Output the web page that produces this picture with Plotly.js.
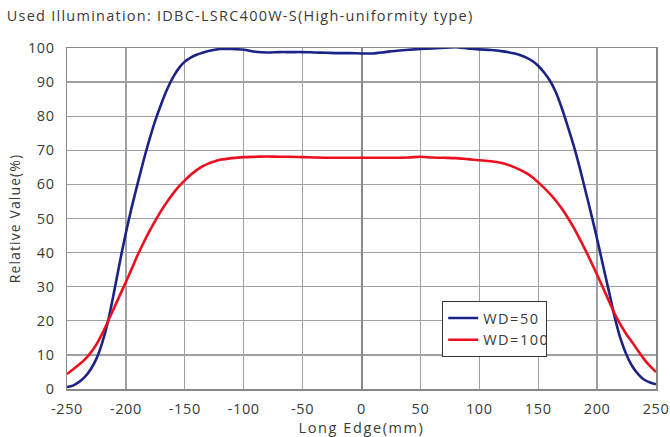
<!DOCTYPE html>
<html>
<head>
<meta charset="utf-8">
<script src="https://cdn.plot.ly/plotly-3.0.1.min.js"></script>
<style>
html,body{margin:0;padding:0;background:#fff;}
#chart{width:670px;height:437px;}
#chart .gtitle{letter-spacing:1.25px;}
#chart .g-xtitle text{letter-spacing:1.6px;}
#chart .g-ytitle text{letter-spacing:1.1px;}
#chart .legendtext{letter-spacing:1.5px;}
#chart .xtick text,#chart .ytick text{letter-spacing:0.6px;}
</style>
</head>
<body>
<div id="chart"></div>
<script>
const titleText = "Used Illumination: IDBC-LSRC400W-S(High-uniformity type)";
const xTickVals = [-250,-200,-150,-100,-50,0,50,100,150,200,250];
const xTickText = ["-250","-200","-150","-100","-50","0","50","100","150","200","250"];
const yTickVals = [0,10,20,30,40,50,60,70,80,90,100];

const wd50X = [-250,-245,-240,-235,-230,-225,-220,-215,-210,-205,-200,-195,-190,-185,-180,-175,-170,-165,-160,-155,-150,-145,-140,-135,-130,-120,-110,-100,-90,-80,-70,-60,-50,-40,-30,-20,-10,0,10,20,30,40,50,60,70,80,90,100,110,120,130,135,140,145,150,155,160,165,170,175,180,185,190,195,200,205,210,215,220,225,230,235,240,245,250];
const wd50Y = [0.6,1.0,2.0,3.5,5.7,8.9,13.7,20.1,28.5,37.5,45.8,53.4,60.3,67.0,73.2,78.8,83.6,87.9,91.4,94.1,96.0,97.2,98.0,98.6,99.1,99.7,99.7,99.5,98.9,98.7,98.8,98.8,98.8,98.7,98.6,98.5,98.5,98.4,98.4,98.8,99.2,99.5,99.7,99.9,100.1,100.2,99.9,99.6,99.4,99.0,98.4,97.9,97.2,96.2,94.8,92.8,90.4,87.0,82.4,77.1,71.5,65.2,58.3,51.3,44.0,36.3,28.7,21.0,14.6,10.0,6.6,4.3,2.7,1.9,1.4];

const wd100X = [-250,-245,-240,-235,-230,-225,-220,-215,-210,-205,-200,-195,-190,-185,-180,-175,-170,-165,-160,-155,-150,-145,-140,-135,-130,-125,-120,-110,-100,-90,-80,-70,-60,-50,-40,-30,-20,0,20,40,50,60,70,80,90,100,110,120,130,140,145,150,155,160,165,170,175,180,185,190,195,200,205,210,215,220,225,230,235,240,245,250];
const wd100Y = [4.4,5.7,7.1,8.6,10.6,13.1,16.3,20.0,23.8,27.6,31.4,35.3,39.3,42.9,46.3,49.4,52.3,54.9,57.3,59.4,61.2,62.8,64.2,65.3,66.1,66.7,67.2,67.7,68.0,68.1,68.2,68.1,68.1,68.0,67.9,67.8,67.8,67.8,67.8,67.9,68.1,67.9,67.8,67.7,67.4,67.1,66.8,66.2,65.0,63.3,62.1,60.6,59.0,57.2,55.2,52.9,50.3,47.4,44.2,40.8,37.2,33.5,29.7,25.8,22.0,18.8,16.0,13.6,11.1,8.7,6.7,5.0];

const fontFam = "'Open Sans', 'Noto Sans', sans-serif";

const traces = [
  {x: wd50X, y: wd50Y, name: "WD=50", type: "scatter", mode: "lines",
   line: {color: "#1c2386", width: 2.6, shape: "spline", smoothing: 0.8}},
  {x: wd100X, y: wd100Y, name: "WD=100", type: "scatter", mode: "lines",
   line: {color: "#ec0f1f", width: 2.6, shape: "spline", smoothing: 0.8}}
];

const layout = {
  width: 670, height: 437,
  margin: {l: 67, r: 14, t: 48, b: 48},
  paper_bgcolor: "#fff", plot_bgcolor: "#fff",
  font: {family: fontFam, color: "#3a3a3a", size: 14},
  title: {text: titleText, x: 0.01, xanchor: "left", y: 0.963, yanchor: "middle",
          font: {family: fontFam, size: 14.5, color: "#3a3a3a"}},
  showlegend: true,
  legend: {x: 0.637, y: 0.258, xanchor: "left", yanchor: "top",
           bgcolor: "#fff", bordercolor: "#333", borderwidth: 1,
           font: {family: fontFam, size: 14.5, color: "#3a3a3a"},
           itemwidth: 30, tracegroupgap: 2},
  xaxis: {range: [-250, 250], tickvals: xTickVals, ticktext: xTickText, ticks: "", ticklabelstandoff: 6,
          showgrid: true, gridcolor: "#a0a0a0", gridwidth: 1.3,
          zeroline: true, zerolinecolor: "#888", zerolinewidth: 2,
          showline: true, linecolor: "#888", linewidth: 1.5, mirror: true,
          tickfont: {size: 14.5},
          title: {text: "Long Edge(mm)", standoff: 6, font: {size: 14.5}}},
  yaxis: {range: [0, 100], tickvals: yTickVals, ticks: "", ticklabelstandoff: 8,
          showgrid: true, gridcolor: "#a0a0a0", gridwidth: 1.3,
          zeroline: false,
          showline: true, linecolor: "#888", linewidth: 1.5, mirror: true,
          tickfont: {size: 14.5},
          title: {text: "Relative Value(%)", standoff: 6, font: {size: 14}}}
};

Plotly.newPlot("chart", traces, layout, {staticPlot: true, displayModeBar: false});
</script>
</body>
</html>
